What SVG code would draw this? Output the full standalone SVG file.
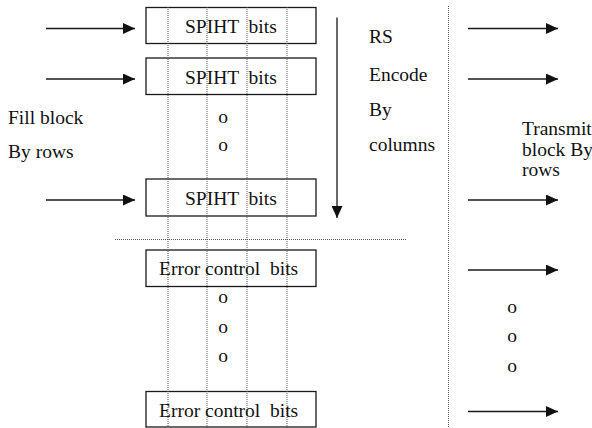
<svg xmlns="http://www.w3.org/2000/svg" width="592" height="428" viewBox="0 0 592 428">
<style>
.box{fill:#fff;stroke:#1a1a1a;stroke-width:1.3}
.dot{stroke:#555;stroke-width:1;stroke-dasharray:1 1;fill:none}
.arr{stroke:#1a1a1a;stroke-width:1.3;fill:none;marker-end:url(#ah)}
text{font-family:"Liberation Serif","Times New Roman",serif;font-size:19.5px;fill:#111;white-space:pre}
.o{text-anchor:middle}
</style>
<defs>
<marker id="ah" markerUnits="userSpaceOnUse" markerWidth="12" markerHeight="11" refX="12" refY="5.5" orient="auto">
<path d="M0,0 L12,5.5 L0,11 z" fill="#111"/>
</marker>
</defs>
<rect width="592" height="428" fill="#fff"/>
<g id="block-boxes">
<g id="spiht1"><rect class="box" x="146" y="7.5" width="170" height="36"/></g>
<g id="spiht2"><rect class="box" x="146" y="58" width="170" height="36.5"/></g>
<g id="spiht3"><rect class="box" x="146" y="179" width="170" height="37"/></g>
<g id="err1"><rect class="box" x="146" y="250" width="170" height="36.5"/></g>
<g id="err2"><rect class="box" x="146" y="391.5" width="170" height="35.5"/></g>
</g>
<g id="guides">
<line class="dot" x1="168" y1="7" x2="168" y2="428"/>
<line class="dot" x1="207" y1="7" x2="207" y2="428"/>
<line class="dot" x1="247" y1="7" x2="247" y2="428"/>
<line class="dot" x1="287" y1="7" x2="287" y2="428"/>
<line class="dot" x1="448.5" y1="6" x2="448.5" y2="428"/>
<line class="dot" x1="115" y1="239.5" x2="407" y2="239.5"/>
</g>
<g id="connectors">
<line class="arr" x1="46" y1="28.5" x2="135" y2="28.5"/>
<line class="arr" x1="46" y1="79" x2="135" y2="79"/>
<line class="arr" x1="46" y1="200" x2="135" y2="200"/>
<line class="arr" x1="337" y1="17.5" x2="337" y2="218"/>
<line class="arr" x1="468" y1="28.5" x2="558" y2="28.5"/>
<line class="arr" x1="468" y1="79" x2="558" y2="79"/>
<line class="arr" x1="468" y1="200" x2="558" y2="200"/>
<line class="arr" x1="468" y1="270" x2="558" y2="270"/>
<line class="arr" x1="468" y1="411.5" x2="558" y2="411.5"/>
</g>
<g id="box-labels">
<text x="185" y="33">SPIHT  bits</text>
<text x="185" y="83.5">SPIHT  bits</text>
<text x="185" y="205">SPIHT  bits</text>
<text x="159" y="275">Error control  bits</text>
<text x="159" y="416.5">Error control  bits</text>
</g>
<g id="fill-label">
<text x="8" y="123.5">Fill block</text>
<text x="8" y="158">By rows</text>
</g>
<g id="rs-label">
<text x="369" y="42.5">RS</text>
<text x="369" y="81">Encode</text>
<text x="369" y="116">By</text>
<text x="369" y="151">columns</text>
</g>
<g id="transmit-label">
<text x="522" y="135">Transmit</text>
<text x="522" y="156">block By</text>
<text x="522" y="176">rows</text>
</g>
<g id="ellipses">
<text class="o" x="223" y="123">o</text>
<text class="o" x="223" y="151">o</text>
<text class="o" x="223" y="303">o</text>
<text class="o" x="223" y="332.5">o</text>
<text class="o" x="223" y="361.5">o</text>
<text class="o" x="512" y="313">o</text>
<text class="o" x="512" y="342">o</text>
<text class="o" x="512" y="371.5">o</text>
</g>
</svg>
